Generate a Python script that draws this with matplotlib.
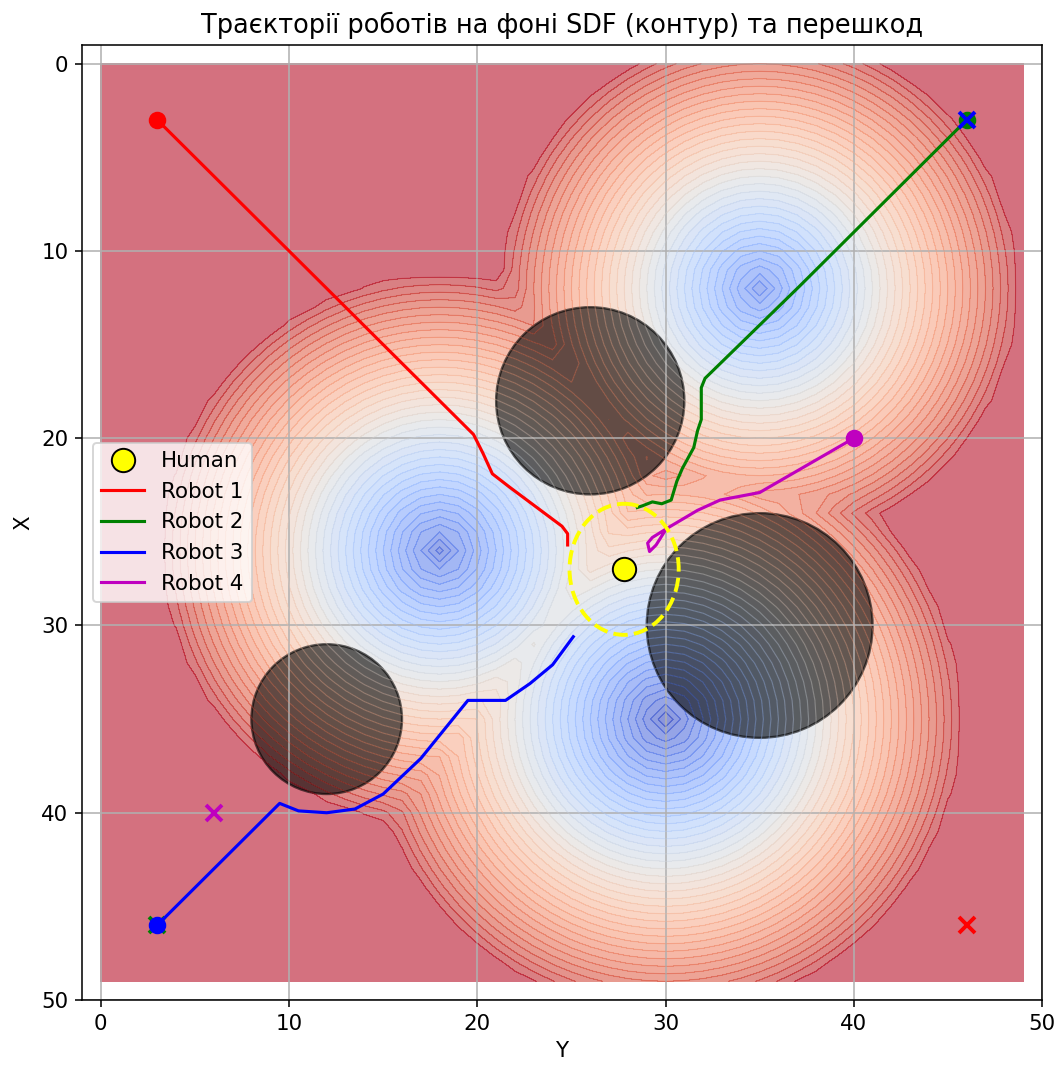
import matplotlib
matplotlib.use("Agg")
import matplotlib.pyplot as plt
import numpy as np
from matplotlib.patches import Circle, Ellipse

plt.rcParams['font.size'] = 11

# Перешкоди (центр по горизонталі, центр по вертикалі, радіус)
obst_h = [26, 35, 12]
obst_v = [18, 30, 35]
obst_r = [5, 6, 4]

# SDF рахується в транспонованих координатах
sdf_h = [35, 18, 30]
sdf_v = [12, 26, 35]
sdf_r = [4, 5, 6]
sdf_clip = 10
grid_n = 50

# Людина
human_h, human_v = 27.8, 27.0
zone_w, zone_h = 5.8, 7.0

# Траєкторії роботів (горизонталь, вертикаль)
r1_h = [3, 19.8, 20.3, 20.8, 21.7, 23.3, 24.5, 24.8, 24.8]
r1_v = [3, 19.8, 20.8, 21.9, 22.6, 23.8, 24.7, 25.1, 25.7]
r2_h = [46, 37.1, 32.1, 31.9, 31.9, 31.7, 31.5, 30.9, 30.6, 30.3, 29.8, 29.3, 28.8, 28.5]
r2_v = [3, 11.9, 16.8, 17.3, 19.0, 19.6, 20.5, 21.6, 22.3, 23.3, 23.5, 23.4, 23.6, 23.7]
r3_h = [3, 9.5, 10.5, 12.0, 13.5, 15.0, 17.0, 19.5, 21.5, 22.8, 24.0, 25.1]
r3_v = [46, 39.5, 39.9, 40.0, 39.8, 39.0, 37.1, 34.0, 34.0, 33.1, 32.1, 30.6]
r4_h = [40, 35.0, 32.9, 31.7, 30.1, 29.3, 29.05, 29.15, 29.5, 30.0]
r4_v = [20, 22.9, 23.3, 23.85, 24.8, 25.3, 25.6, 26.05, 25.7, 24.9]

starts = [(3, 3), (46, 3), (3, 46), (40, 20)]
goals = [(46, 46), (3, 46), (46, 3), (6, 40)]
colors = ['r', 'g', 'b', 'm']
labels = ['Robot 1', 'Robot 2', 'Robot 3', 'Robot 4']
paths = [(r1_h, r1_v), (r2_h, r2_v), (r3_h, r3_v), (r4_h, r4_v)]

dpi = 140
fig = plt.figure(figsize=(1060 / dpi, 1068 / dpi), dpi=dpi)
ax = fig.add_axes([82 / 1060, 68 / 1068, 960 / 1060, 955 / 1068])

# Поле SDF
xs = np.arange(grid_n)
H, V = np.meshgrid(xs, xs)
sdf = np.full(H.shape, np.inf)
for ch, cv, r in zip(sdf_h, sdf_v, sdf_r):
    sdf = np.minimum(sdf, np.sqrt((H - ch) ** 2 + (V - cv) ** 2) - r)
sdf = np.minimum(sdf, sdf_clip)

ax.contourf(H, V, sdf, levels=40, cmap='coolwarm', alpha=0.6)
ax.contour(H, V, sdf, levels=40, cmap='coolwarm', alpha=0.35, linewidths=0.6)

# Перешкоди
for ch, cv, r in zip(obst_h, obst_v, obst_r):
    ax.add_patch(Circle((ch, cv), r, facecolor='black', edgecolor='black', alpha=0.6, linewidth=1.2))

# Людина та її зона
ax.add_patch(Ellipse((human_h, human_v), zone_w, zone_h, fill=False, edgecolor='yellow',
                     linestyle='--', linewidth=2, zorder=3))
ax.plot(human_h, human_v, 'o', color='yellow', markeredgecolor='black', markersize=12,
        linestyle='none', label='Human', zorder=4)

# Роботи
for (ph, pv), c, lab, s, g in zip(paths, colors, labels, starts, goals):
    ax.plot(ph, pv, color=c, linewidth=1.6, label=lab)
    ax.plot(s[0], s[1], 'o', color=c, markersize=8)
    ax.plot(g[0], g[1], 'x', color=c, markersize=8, markeredgewidth=2)

ax.set_xlim(-1, 50)
ax.set_ylim(50, -1)
ax.set_xlabel('Y')
ax.set_ylabel('X')
ax.set_title('Траєкторії роботів на фоні SDF (контур) та перешкод', fontsize=13.2)
ax.grid(True)
ax.legend(loc='center left')

fig.savefig('out.png', dpi=dpi)
